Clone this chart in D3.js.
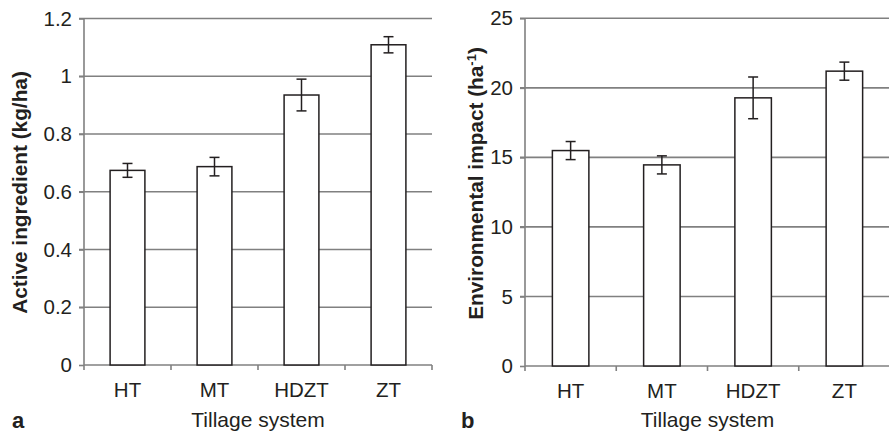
<!DOCTYPE html>
<html>
<head>
<meta charset="utf-8">
<script src="https://cdn.jsdelivr.net/npm/d3@7"></script>
<style>
  body { margin: 0; background: #ffffff; }
  svg { display: block; }
  text { font-family: "Liberation Sans", Arial, sans-serif; fill: #231f20; }
</style>
</head>
<body>
<svg width="889" height="436"></svg>
<script>
const categories = ["HT", "MT", "HDZT", "ZT"]

// panel a: active ingredient (kg/ha)
const activeValues = [0.674, 0.687, 0.935, 1.109]
const activeErrors = [0.024, 0.032, 0.055, 0.028]
const activeTicks = [0, 0.2, 0.4, 0.6, 0.8, 1, 1.2]

// panel b: environmental impact (ha-1)
const impactValues = [15.49, 14.46, 19.28, 21.2]
const impactErrors = [0.65, 0.65, 1.5, 0.65]
const impactTicks = [0, 5, 10, 15, 20, 25]

class Panel {

    constructor(svg, opts) {
        this.svg = svg
        this.opts = opts
        this.g = svg.append("g")
        this.x = d3.scaleBand().domain(categories).range([opts.left, opts.right]).padding(0)
        this.y = d3.scaleLinear().domain([0, opts.max]).range([opts.bottom, opts.top])
    }

    grid() {
        const o = this.opts
        this.g.selectAll(".grid")
            .data(o.ticks.filter(t => t > 0))
            .enter().append("line")
            .attr("class", "grid")
            .attr("x1", o.left - 5)
            .attr("x2", o.right)
            .attr("y1", d => this.y(d))
            .attr("y2", d => this.y(d))
            .attr("stroke", "#808080")
            .attr("stroke-width", 1.6)
    }

    axes() {
        const o = this.opts
        const yAxis = d3.axisLeft(this.y).tickValues(o.ticks).tickSize(5).tickPadding(7)
            .tickFormat(d3.format("~g"))
        const yg = this.g.append("g").attr("transform", `translate(${o.left},0)`).call(yAxis)
        yg.select(".domain").attr("stroke", "#808080").attr("stroke-width", 1.6)
            .attr("d", `M0,${o.bottom}V${o.top}`)
        yg.selectAll(".tick line").attr("stroke", "#808080").attr("stroke-width", 1.6)
        yg.selectAll("text").style("font-size", "20.5px").attr("fill", "#231f20")
            .attr("font-family", null)

        const xAxis = d3.axisBottom(this.x).tickSize(0).tickPadding(17)
        const xg = this.g.append("g").attr("transform", `translate(0,${o.bottom})`).call(xAxis)
        xg.select(".domain").attr("stroke", "#808080").attr("stroke-width", 1.6)
            .attr("d", `M${o.left},0H${o.right}`)
        xg.selectAll("text").style("font-size", "20.5px").attr("fill", "#231f20")
            .attr("font-family", null)

        // category separator ticks
        const edges = categories.map(c => this.x(c)).concat([o.right])
        this.g.selectAll(".sep")
            .data(edges)
            .enter().append("line")
            .attr("x1", d => d).attr("x2", d => d)
            .attr("y1", o.bottom).attr("y2", o.bottom + 5)
            .attr("stroke", "#808080")
            .attr("stroke-width", 1.6)
    }

    bars(values, errors) {
        const bw = this.x.bandwidth() * 0.4
        const rows = categories.map((c, i) => ({ c: c, v: values[i], e: errors[i] }))
        const cx = d => this.x(d.c) + this.x.bandwidth() / 2

        this.g.selectAll(".bar")
            .data(rows)
            .enter().append("rect")
            .attr("class", "bar")
            .attr("x", d => cx(d) - bw / 2)
            .attr("y", d => this.y(d.v))
            .attr("width", bw)
            .attr("height", d => this.y(0) - this.y(d.v))
            .attr("fill", "#ffffff")
            .attr("stroke", "#231f20")
            .attr("stroke-width", 1.5)

        const err = this.g.selectAll(".err").data(rows).enter().append("g")
        err.append("line")
            .attr("x1", cx).attr("x2", cx)
            .attr("y1", d => this.y(d.v + d.e))
            .attr("y2", d => this.y(d.v - d.e))
        err.append("line")
            .attr("x1", d => cx(d) - 5).attr("x2", d => cx(d) + 5)
            .attr("y1", d => this.y(d.v + d.e)).attr("y2", d => this.y(d.v + d.e))
        err.append("line")
            .attr("x1", d => cx(d) - 5).attr("x2", d => cx(d) + 5)
            .attr("y1", d => this.y(d.v - d.e)).attr("y2", d => this.y(d.v - d.e))
        err.selectAll("line").attr("stroke", "#231f20").attr("stroke-width", 1.5)
    }

    labels() {
        const o = this.opts
        const t = this.g.append("text")
            .attr("transform", `translate(${o.titleX},${o.titleY}) rotate(-90)`)
            .attr("text-anchor", "middle")
            .style("font-size", "20.8px")
            .style("font-weight", "bold")
        o.title(t)

        this.g.append("text")
            .attr("x", (o.left + o.right) / 2)
            .attr("y", 427)
            .attr("text-anchor", "middle")
            .style("font-size", "21px")
            .text("Tillage system")

        this.g.append("text")
            .attr("x", o.letterX)
            .attr("y", 428)
            .style("font-size", "22px")
            .style("font-weight", "bold")
            .text(o.letter)
    }
}

const svg = d3.select("svg")

const a = new Panel(svg, {
    left: 84, right: 432, top: 18.5, bottom: 365, max: 1.2, ticks: activeTicks,
    titleX: 27, titleY: 192.5, letter: "a", letterX: 12,
    title: t => t.text("Active ingredient (kg/ha)")
})
a.grid(); a.axes(); a.bars(activeValues, activeErrors); a.labels()

const b = new Panel(svg, {
    left: 525, right: 890, top: 18.3, bottom: 366, max: 25, ticks: impactTicks,
    titleX: 483, titleY: 183.5, letter: "b", letterX: 461,
    title: t => {
        t.append("tspan").text("Environmental impact (ha")
        t.append("tspan").attr("baseline-shift", "super").style("font-size", "13px").text("-1")
        t.append("tspan").text(")")
    }
})
b.grid(); b.axes(); b.bars(impactValues, impactErrors); b.labels()
</script>
</body>
</html>
